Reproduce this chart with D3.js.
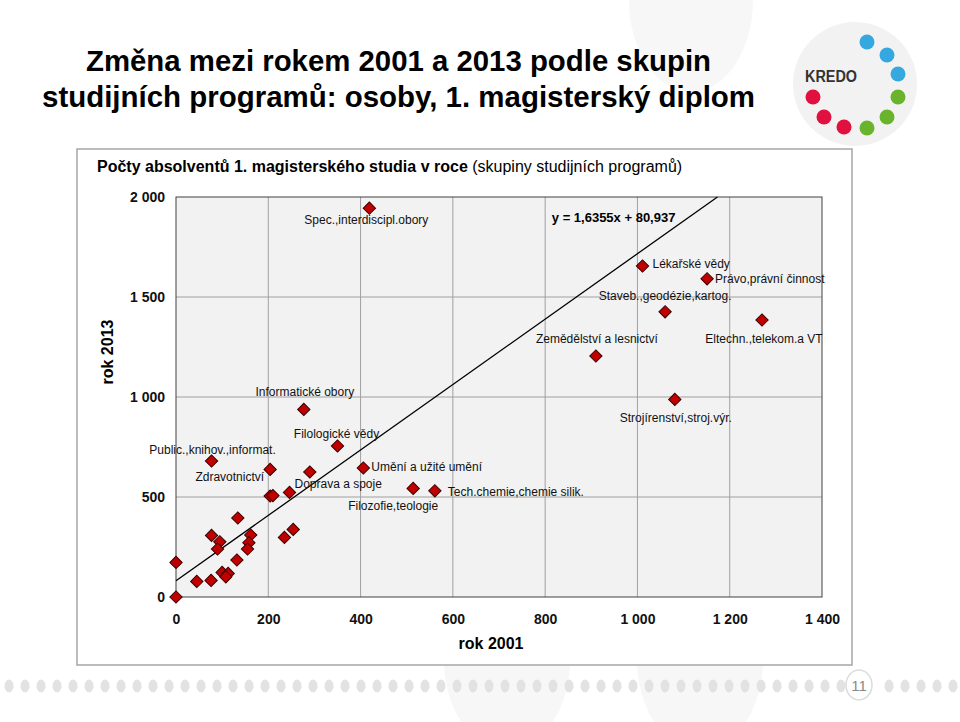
<!DOCTYPE html>
<html>
<head>
<meta charset="utf-8">
<script src="https://cdn.jsdelivr.net/npm/d3@7"></script>
<style>
  html, body { margin: 0; padding: 0; background: #fff; }
  svg { display: block; font-family: "Liberation Sans", Arial, sans-serif; }
</style>
</head>
<body>
<div id="chart"></div>
<script>
// Data (graduates per study group, 2001 vs 2013)
const groupNames = [
  'Spec.,interdiscipl.obory', 'Lékařské vědy', 'Právo,právní  činnost', 'Staveb.,geodézie,kartog.',
  'Eltechn.,telekom.a VT', 'Zemědělství a lesnictví', 'Strojírenství,stroj.výr.', 'Informatické obory',
  'Filologické vědy', 'Public.,knihov.,informat.', 'Zdravotnictví', '',
  'Umění a užité umění', 'Doprava a spoje', '', '',
  'Filozofie,teologie', 'Tech.chemie,chemie silik.', '', '',
  '', '', '', '',
  '', '', '', '',
  '', '', '', '',
  '', '', ''
];
const x2001 = [
  419, 1011, 1151, 1060,
  1270, 910, 1081, 277,
  350, 77, 204, 290,
  406, 246, 204, 210,
  514, 561, 134, 254,
  235, 77, 95, 90,
  162, 158, 155, 132,
  0, 100, 113, 108,
  76, 45, 0
];
const y2013 = [
  1944, 1655, 1591, 1426,
  1385, 1205, 988, 938,
  755, 680, 638, 625,
  645, 523, 505, 507,
  543, 531, 395, 338,
  298, 308, 276, 240,
  310, 271, 240, 185,
  173, 123, 118, 101,
  83, 78, 0
];
const xTicks = [0, 200, 400, 600, 800, 1000, 1200, 1400];
const yTicks = [0, 500, 1000, 1500, 2000];
const trendSlope = 1.6355;
const trendIntercept = 80.937;
const trendLabel = 'y = 1,6355x  + 80,937';

// label placement relative to the marker (px)
const labelLayout = {
  'Spec.,interdiscipl.obory': [-3, 16, 'middle'],
  'Lékařské vědy': [10, 2, 'start'],
  'Právo,právní  činnost': [8, 4, 'start'],
  'Staveb.,geodézie,kartog.': [0, -12, 'middle'],
  'Eltechn.,telekom.a VT': [2, 23, 'middle'],
  'Zemědělství a lesnictví': [1, -13, 'middle'],
  'Strojírenství,stroj.výr.': [1, 23, 'middle'],
  'Informatické obory': [1, -13, 'middle'],
  'Filologické vědy': [-1, -8, 'middle'],
  'Public.,knihov.,informat.': [1, -7, 'middle'],
  'Zdravotnictví': [-6, 12, 'end'],
  'Umění a užité umění': [8, 3, 'start'],
  'Doprava a spoje': [5, -4, 'start'],
  'Filozofie,teologie': [-20, 22, 'middle'],
  'Tech.chemie,chemie silik.': [13, 5, 'start']
};

const W = 960;
const H = 722;
const margin = { t: 197, r: 138, b: 125, l: 176 };
const plotW = W - margin.l - margin.r;
const plotH = H - margin.t - margin.b;

const fmt = d3.formatLocale({ decimal: ',', thousands: ' ', grouping: [3], currency: ['', ''] }).format(',d');

const scaleX = d3.scaleLinear().domain([0, 1400]).range([0, plotW]);
const scaleY = d3.scaleLinear().domain([0, 2000]).range([plotH, 0]);

const svg = d3.select('#chart')
  .append('svg')
  .attr('width', W)
  .attr('height', H);

// faint decorative circles of the slide template
svg.append('ellipse')
  .attr('cx', 691).attr('cy', 0)
  .attr('rx', 62).attr('ry', 92)
  .attr('fill', '#f7f7f7');
svg.append('ellipse')
  .attr('cx', 507).attr('cy', 660)
  .attr('rx', 63).attr('ry', 90)
  .attr('fill', '#f7f7f7');
svg.append('ellipse')
  .attr('cx', 700).attr('cy', 660)
  .attr('rx', 63).attr('ry', 90)
  .attr('fill', '#f7f7f7');

// Title
const title = svg.append('g')
  .attr('font-weight', 'bold')
  .attr('font-size', 30)
  .attr('fill', '#000');
title.append('text')
  .attr('x', 86).attr('y', 71)
  .attr('textLength', 625)
  .attr('lengthAdjust', 'spacingAndGlyphs')
  .text('Změna mezi rokem 2001 a 2013 podle skupin');
title.append('text')
  .attr('x', 42).attr('y', 107)
  .attr('textLength', 713)
  .attr('lengthAdjust', 'spacingAndGlyphs')
  .text('studijních programů: osoby, 1. magisterský diplom');

// KREDO logo
const logo = svg.append('g');
logo.append('circle')
  .attr('cx', 855).attr('cy', 84).attr('r', 62)
  .attr('fill', '#f2f2f2');
const logoDots = [
  [867, 42, '#35a8e0'], [887, 55, '#35a8e0'], [898, 74, '#35a8e0'],
  [898, 97, '#6ab42d'], [887, 117, '#6ab42d'], [867, 128, '#6ab42d'],
  [813, 97, '#e0103f'], [824, 117, '#e0103f'], [844, 127, '#e0103f']
];
logo.selectAll('circle.dot')
  .data(logoDots)
  .enter()
  .append('circle')
  .attr('class', 'dot')
  .attr('cx', d => d[0])
  .attr('cy', d => d[1])
  .attr('r', 7.5)
  .attr('fill', d => d[2]);
logo.append('text')
  .attr('x', 805).attr('y', 82)
  .attr('font-size', 16)
  .attr('font-weight', 'bold')
  .attr('fill', '#333')
  .attr('textLength', 52)
  .attr('lengthAdjust', 'spacingAndGlyphs')
  .text('KREDO');

// chart box
svg.append('rect')
  .attr('x', 77).attr('y', 149)
  .attr('width', 775).attr('height', 516)
  .attr('fill', '#fff')
  .attr('stroke', '#a6a6a6')
  .attr('stroke-width', 1.5);

const sub = svg.append('text')
  .attr('x', 97).attr('y', 172)
  .attr('font-size', 16)
  .attr('fill', '#000');
sub.append('tspan').attr('font-weight', 'bold').text('Počty absolventů 1. magisterského studia v roce');
sub.append('tspan').text(' (skupiny studijních programů)');

const g = svg.append('g')
  .attr('transform', `translate(${margin.l}, ${margin.t})`);

g.append('rect')
  .attr('width', plotW)
  .attr('height', plotH)
  .attr('fill', '#f2f2f2');

// gridlines
g.selectAll('line.gx')
  .data(xTicks.slice(1, -1))
  .enter()
  .append('line')
  .attr('class', 'gx')
  .attr('x1', d => scaleX(d)).attr('x2', d => scaleX(d))
  .attr('y1', 0).attr('y2', plotH)
  .attr('stroke', '#a0a0a0')
  .attr('stroke-width', 1);
g.selectAll('line.gy')
  .data(yTicks.slice(1, -1))
  .enter()
  .append('line')
  .attr('class', 'gy')
  .attr('x1', 0).attr('x2', plotW)
  .attr('y1', d => scaleY(d)).attr('y2', d => scaleY(d))
  .attr('stroke', '#a0a0a0')
  .attr('stroke-width', 1);

g.append('rect')
  .attr('width', plotW)
  .attr('height', plotH)
  .attr('fill', 'none')
  .attr('stroke', '#404040')
  .attr('stroke-width', 1);

// Axes (labels only)
const xAxis = d3.axisBottom(scaleX).tickValues(xTicks).tickSize(0).tickPadding(17).tickFormat(fmt);
const yAxis = d3.axisLeft(scaleY).tickValues(yTicks).tickSize(0).tickPadding(11).tickFormat(fmt);

g.append('g')
  .attr('class', 'axis axis--x')
  .attr('transform', `translate(0, ${plotH})`)
  .call(xAxis)
  .call(a => a.select('.domain').remove());
g.append('g')
  .attr('class', 'axis axis--y')
  .call(yAxis)
  .call(a => a.select('.domain').remove());
g.selectAll('.axis text')
  .attr('font-family', '"Liberation Sans", Arial, sans-serif')
  .attr('font-size', 14)
  .attr('font-weight', 'bold')
  .attr('fill', '#111');

svg.append('text')
  .attr('x', 491).attr('y', 649)
  .attr('text-anchor', 'middle')
  .attr('font-size', 16)
  .attr('font-weight', 'bold')
  .text('rok 2001');
svg.append('text')
  .attr('transform', 'translate(113, 352) rotate(-90)')
  .attr('text-anchor', 'middle')
  .attr('font-size', 16)
  .attr('font-weight', 'bold')
  .text('rok 2013');

// Trend line, clipped at the top of the plot
const xEnd = (2000 - trendIntercept) / trendSlope;
const trendLine = d3.line()
  .x(d => scaleX(d))
  .y(d => scaleY(trendSlope * d + trendIntercept));
g.append('path')
  .datum([0, xEnd])
  .attr('fill', 'none')
  .attr('stroke', '#000')
  .attr('stroke-width', 1.3)
  .attr('d', trendLine);

g.append('text')
  .attr('x', scaleX(xEnd) - 42).attr('y', 25)
  .attr('text-anchor', 'end')
  .attr('font-size', 13)
  .attr('font-weight', 'bold')
  .text(trendLabel);

// Points
const points = groupNames.map((name, i) => ({ name, x: x2001[i], y: y2013[i] }));
const diamond = d3.symbol().type(d3.symbolSquare).size(76);

g.selectAll('path.pt')
  .data(points)
  .enter()
  .append('path')
  .attr('class', 'pt')
  .attr('d', diamond)
  .attr('transform', d => `translate(${scaleX(d.x)}, ${scaleY(d.y)}) rotate(45)`)
  .attr('fill', '#c00000')
  .attr('stroke', '#3a0000')
  .attr('stroke-width', 1);

g.selectAll('text.lbl')
  .data(points.filter(d => d.name))
  .enter()
  .append('text')
  .attr('class', 'lbl')
  .attr('x', d => scaleX(d.x) + labelLayout[d.name][0])
  .attr('y', d => scaleY(d.y) + labelLayout[d.name][1])
  .attr('text-anchor', d => labelLayout[d.name][2])
  .attr('font-size', 12)
  .attr('fill', '#111')
  .text(d => d.name);

// slide footer: dotted band and page number
const footDots = d3.range(0, 61).map(i => 9 + i * 16).filter(x => Math.abs(x - 859) > 16);
svg.selectAll('ellipse.fd')
  .data(footDots)
  .enter()
  .append('ellipse')
  .attr('class', 'fd')
  .attr('cx', d => d).attr('cy', 686)
  .attr('rx', 4.5).attr('ry', 6.5)
  .attr('fill', '#e2e2e2');
svg.append('ellipse')
  .attr('cx', 859).attr('cy', 685)
  .attr('rx', 13).attr('ry', 15)
  .attr('fill', '#fff')
  .attr('stroke', '#dcdcdc')
  .attr('stroke-width', 1.5);
svg.append('text')
  .attr('x', 859).attr('y', 691)
  .attr('text-anchor', 'middle')
  .attr('font-size', 15)
  .attr('fill', '#888')
  .text('11');
</script>
</body>
</html>
